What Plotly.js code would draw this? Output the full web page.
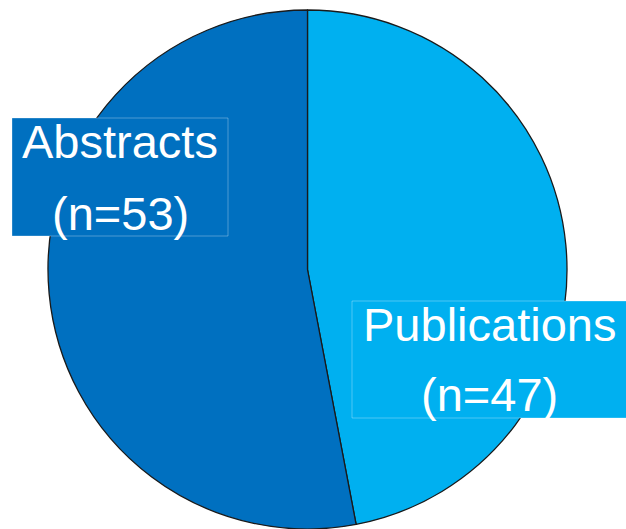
<!DOCTYPE html>
<html>
<head>
<meta charset="utf-8">
<script src="https://cdn.plot.ly/plotly-3.0.1.min.js"></script>
<style>html,body{margin:0;padding:0;background:#fff;}#chart{width:626px;height:529px;}</style>
</head>
<body>
<div id="chart"></div>
<script>
var categories = ['Publications', 'Abstracts'];
var counts = [47, 53];
var sliceColors = ['#00B0F0', '#0070C0'];

var W = 626, H = 529;
var trace = {
  type: 'pie',
  labels: categories,
  values: counts,
  sort: false,
  direction: 'clockwise',
  rotation: 0,
  textinfo: 'none',
  hoverinfo: 'none',
  showlegend: false,
  marker: {colors: sliceColors, line: {color: '#1a1a1a', width: 1.3}},
  domain: {x: [48 / W, 567 / W], y: [0, (H - 10) / H]}
};

// label box layout (pixels): left, top, right, bottom, and text line centres
var labelBoxes = [
  {l: 352, t: 301, r: 630, b: 418, cx: 490, y1: 324, y2: 394},
  {l: 12, t: 118, r: 228, b: 236, cx: 120, y1: 141.5, y2: 213.5}
];

var shapes = [];
var annotations = [];
var fnt = {family: 'Liberation Sans, Arial, sans-serif', size: 47, color: '#ffffff'};
categories.forEach(function(c, i){
  var b = labelBoxes[i];
  shapes.push({
    type: 'rect', xref: 'paper', yref: 'paper', layer: 'above',
    x0: b.l / W, x1: b.r / W, y0: 1 - b.b / H, y1: 1 - b.t / H,
    fillcolor: sliceColors[i],
    line: {color: 'rgba(255,255,255,0.3)', width: 1}
  });
  var lines = [c, '(n=' + counts[i] + ')'];
  [b.y1, b.y2].forEach(function(yy, k){
    annotations.push({
      xref: 'paper', yref: 'paper',
      x: b.cx / W, y: 1 - yy / H,
      xanchor: 'center', yanchor: 'middle',
      showarrow: false,
      text: lines[k],
      font: fnt
    });
  });
});

var layout = {
  width: W, height: H,
  margin: {l: 0, r: 0, t: 0, b: 0},
  paper_bgcolor: '#ffffff',
  plot_bgcolor: '#ffffff',
  showlegend: false,
  shapes: shapes,
  annotations: annotations
};

Plotly.newPlot('chart', [trace], layout, {displayModeBar: false, staticPlot: true});
</script>
</body>
</html>
